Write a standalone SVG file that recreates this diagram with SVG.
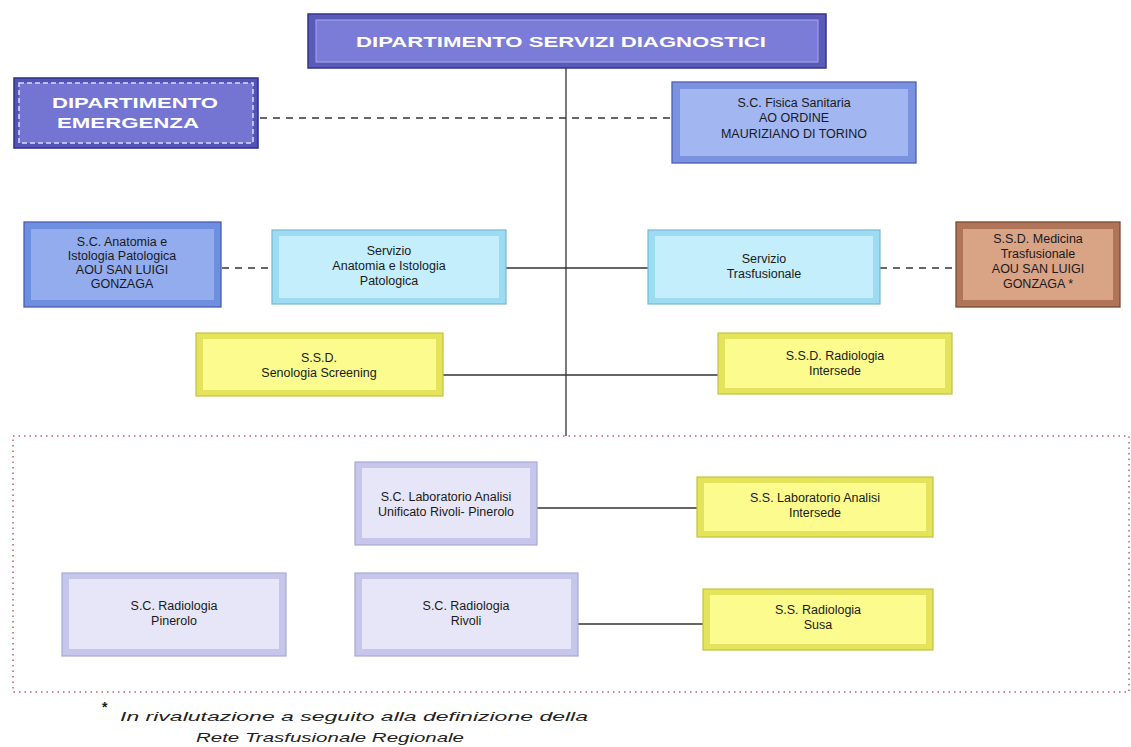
<svg xmlns="http://www.w3.org/2000/svg" width="1131" height="747" viewBox="0 0 1131 747">
<style>
text{font-family:"Liberation Sans",Arial,sans-serif;font-size:12.5px;fill:#1a1a1a;text-anchor:middle}
.hd{fill:#ffffff;font-weight:bold;font-size:15px}
.hd2{fill:#ffffff;font-weight:bold;font-size:15px}
.edge{stroke:#333;stroke-width:1.3;fill:none}
.dash{stroke:#333;stroke-width:1.5;fill:none;stroke-dasharray:7,6}
.foot{font-style:italic;font-size:13px;text-anchor:start;fill:#222}
</style>
<rect width="1131" height="747" fill="#ffffff"/>
<g id="connectors">
<line class="edge" x1="566" y1="68" x2="566" y2="436"/>
<line class="dash" x1="260" y1="118" x2="672" y2="118"/>
<line class="dash" x1="222" y1="268" x2="272" y2="268"/>
<line class="edge" x1="506" y1="268" x2="648" y2="268"/>
<line class="dash" x1="880" y1="268" x2="956" y2="268"/>
<line class="edge" x1="443" y1="375" x2="718" y2="375"/>
<line class="edge" x1="537" y1="508" x2="697" y2="508"/>
<line class="edge" x1="578" y1="624" x2="703" y2="624"/>
</g>
<g id="area">
<rect x="13" y="436" width="1116" height="256" fill="none" stroke="#d08890" stroke-width="2" stroke-dasharray="1.5,4"/>
</g>
<g id="n-dsd">
<rect x="308" y="14" width="518" height="54" fill="#5a5ab8" stroke="#33338a" stroke-width="1.5"/>
<rect x="316" y="20" width="502" height="42" fill="#7b7bd8" stroke="#a8a8ee" stroke-width="1"/>
<text class="hd" x="561" y="47" textLength="410" lengthAdjust="spacingAndGlyphs">DIPARTIMENTO SERVIZI DIAGNOSTICI</text>
</g>
<g id="n-emergenza">
<rect x="14" y="78" width="244" height="70" fill="#5454b8" stroke="#2e2e90" stroke-width="1.5"/>
<rect x="19" y="83" width="234" height="60" fill="#7474d2" stroke="#dcdcff" stroke-width="1.5" stroke-dasharray="5,3"/>
<text class="hd2" x="135" y="108" textLength="166" lengthAdjust="spacingAndGlyphs">DIPARTIMENTO</text>
<text class="hd2" x="128" y="128" textLength="142" lengthAdjust="spacingAndGlyphs">EMERGENZA</text>
</g>
<g id="n-fisica">
<rect x="672" y="82" width="244" height="81" fill="#7a92e0" stroke="#4c5fb0" stroke-width="1.3"/>
<rect x="680" y="89" width="228" height="67" fill="#a2b6f2"/>
<text x="794" y="107">S.C. Fisica Sanitaria</text>
<text x="794" y="122">AO ORDINE</text>
<text x="794" y="138">MAURIZIANO DI TORINO</text>
</g>
<g id="n-anat-sc">
<rect x="24" y="222" width="197" height="85" fill="#6e8ee0" stroke="#4a5fb0" stroke-width="1.3"/>
<rect x="31" y="229" width="183" height="71" fill="#93acee"/>
<text x="122" y="246">S.C. Anatomia e</text>
<text x="122" y="260">Istologia Patologica</text>
<text x="122" y="274">AOU SAN LUIGI</text>
<text x="122" y="288">GONZAGA</text>
</g>
<g id="n-anat-serv">
<rect x="272" y="230" width="234" height="74" fill="#9cdcf2" stroke="#78b8d0" stroke-width="1.2"/>
<rect x="279" y="236" width="220" height="62" fill="#c4eefc"/>
<text x="389" y="255">Servizio</text>
<text x="389" y="270">Anatomia e Istologia</text>
<text x="389" y="285">Patologica</text>
</g>
<g id="n-trasf">
<rect x="648" y="230" width="232" height="74" fill="#9cdcf2" stroke="#78b8d0" stroke-width="1.2"/>
<rect x="655" y="236" width="218" height="62" fill="#c4eefc"/>
<text x="764" y="263">Servizio</text>
<text x="764" y="278">Trasfusionale</text>
</g>
<g id="n-medicina">
<rect x="956" y="222" width="164" height="85" fill="#b07458" stroke="#7a4a34" stroke-width="1.3"/>
<rect x="963" y="229" width="150" height="71" fill="#d9a386"/>
<text x="1038" y="243">S.S.D. Medicina</text>
<text x="1038" y="258">Trasfusionale</text>
<text x="1038" y="273">AOU SAN LUIGI</text>
<text x="1038" y="288">GONZAGA *</text>
</g>
<g id="n-senologia">
<rect x="196" y="333" width="247" height="63" fill="#e4e45c" stroke="#c2c240" stroke-width="1.2"/>
<rect x="203" y="339" width="233" height="51" fill="#fbfb8e"/>
<text x="319" y="362">S.S.D.</text>
<text x="319" y="377">Senologia Screening</text>
</g>
<g id="n-rad-inter">
<rect x="718" y="333" width="234" height="61" fill="#e4e45c" stroke="#c2c240" stroke-width="1.2"/>
<rect x="725" y="339" width="220" height="49" fill="#fbfb8e"/>
<text x="835" y="360">S.S.D. Radiologia</text>
<text x="835" y="375">Intersede</text>
</g>
<g id="n-lab-sc">
<rect x="355" y="462" width="182" height="83" fill="#c6c6ec" stroke="#a8a8d4" stroke-width="1.2"/>
<rect x="362" y="468" width="168" height="70" fill="#e6e6f8"/>
<text x="446" y="501">S.C. Laboratorio Analisi</text>
<text x="446" y="516">Unificato Rivoli- Pinerolo</text>
</g>
<g id="n-lab-ss">
<rect x="697" y="477" width="236" height="60" fill="#e4e45c" stroke="#c2c240" stroke-width="1.2"/>
<rect x="704" y="483" width="222" height="48" fill="#fbfb8e"/>
<text x="815" y="502">S.S. Laboratorio Analisi</text>
<text x="815" y="517">Intersede</text>
</g>
<g id="n-rad-pin">
<rect x="62" y="573" width="224" height="83" fill="#c6c6ec" stroke="#a8a8d4" stroke-width="1.2"/>
<rect x="69" y="579" width="210" height="70" fill="#e6e6f8"/>
<text x="174" y="610">S.C. Radiologia</text>
<text x="174" y="625">Pinerolo</text>
</g>
<g id="n-rad-riv">
<rect x="355" y="573" width="223" height="83" fill="#c6c6ec" stroke="#a8a8d4" stroke-width="1.2"/>
<rect x="362" y="579" width="209" height="70" fill="#e6e6f8"/>
<text x="466" y="610">S.C. Radiologia</text>
<text x="466" y="625">Rivoli</text>
</g>
<g id="n-rad-susa">
<rect x="703" y="589" width="230" height="61" fill="#e4e45c" stroke="#c2c240" stroke-width="1.2"/>
<rect x="710" y="595" width="216" height="49" fill="#fbfb8e"/>
<text x="818" y="614">S.S. Radiologia</text>
<text x="818" y="629">Susa</text>
</g>
<g id="footnote">
<text x="102" y="712" style="font-size:14px;text-anchor:start;font-weight:bold">*</text>
<text class="foot" x="120" y="721" textLength="468" lengthAdjust="spacingAndGlyphs">In rivalutazione a seguito alla definizione della</text>
<text class="foot" x="196" y="742" textLength="268" lengthAdjust="spacingAndGlyphs">Rete Trasfusionale Regionale</text>
</g>
</svg>
